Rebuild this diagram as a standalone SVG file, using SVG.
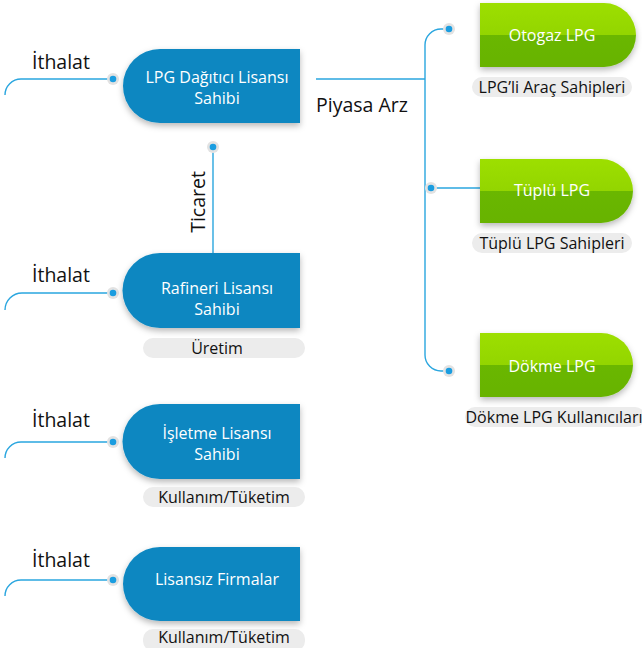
<svg xmlns="http://www.w3.org/2000/svg" width="642" height="648" viewBox="0 0 642 648">
<style>
.blue{fill:#0a87c1;filter:url(#sh)}
.green{fill:url(#gg);filter:url(#sh)}
.nt{font-family:"Open Sans","Liberation Sans",sans-serif;font-size:16px;fill:#ffffff;text-anchor:middle}
.lb{font-family:"Open Sans","Liberation Sans",sans-serif;font-size:19.5px;fill:#111111}
.pl{fill:#ececec}
.pt{font-family:"Open Sans","Liberation Sans",sans-serif;font-size:16px;fill:#111111;text-anchor:middle}
.ln{fill:none;stroke:#2aa6df;stroke-width:1.4}
.halo{fill:#e2e2e2}
.dot{fill:#1a9de0}
</style>
<defs>
<filter id="sh" x="-20%" y="-20%" width="140%" height="150%">
<feDropShadow dx="0" dy="3" stdDeviation="3" flood-color="#000" flood-opacity="0.28"/>
</filter>
<linearGradient id="gg" x1="0" y1="0" x2="0" y2="1">
<stop offset="0" stop-color="#9ddf00"/>
<stop offset="0.5" stop-color="#93d500"/>
<stop offset="0.5" stop-color="#6ab700"/>
<stop offset="1" stop-color="#67b300"/>
</linearGradient>
</defs>
<g id="connectors">
<path class="ln" d="M5,95 A16,16 0 0 1 21,79 H113"/>
<path class="ln" d="M5,310 A17,17 0 0 1 22,293 H113"/>
<path class="ln" d="M5,458 A16,16 0 0 1 21,442 H113"/>
<path class="ln" d="M5,596 A16,16 0 0 1 21,580 H113"/>
<path class="ln" d="M316,79 H425"/>
<path class="ln" d="M449,29 H441 A16,16 0 0 0 425,45 V355 A16,16 0 0 0 441,371 H449"/>
<path class="ln" d="M431,188 H480"/>
<path class="ln" d="M213,147 V253"/>
<circle class="halo" cx="113" cy="79" r="6"/><circle class="dot" cx="113" cy="79" r="3.3"/>
<circle class="halo" cx="113" cy="293" r="6"/><circle class="dot" cx="113" cy="293" r="3.3"/>
<circle class="halo" cx="113" cy="442" r="6"/><circle class="dot" cx="113" cy="442" r="3.3"/>
<circle class="halo" cx="113" cy="580" r="6"/><circle class="dot" cx="113" cy="580" r="3.3"/>
<circle class="halo" cx="449" cy="29" r="6"/><circle class="dot" cx="449" cy="29" r="3.3"/>
<circle class="halo" cx="431" cy="188" r="6"/><circle class="dot" cx="431" cy="188" r="3.3"/>
<circle class="halo" cx="449" cy="371" r="6"/><circle class="dot" cx="449" cy="371" r="3.3"/>
<circle class="halo" cx="213" cy="147" r="6"/><circle class="dot" cx="213" cy="147" r="3.3"/>
<text class="lb" x="32" y="69">İthalat</text>
<text class="lb" x="32" y="282">İthalat</text>
<text class="lb" x="32" y="427">İthalat</text>
<text class="lb" x="32" y="567">İthalat</text>
<text class="lb" x="316" y="112">Piyasa Arz</text>
<text class="lb" text-anchor="middle" transform="translate(205,202) rotate(-90)">Ticaret</text>
</g>
<g id="n-dagitici">
<path class="blue" d="M160,49 H300 V123 H160 A37,37 0 0 1 160,49 Z"/>
<text class="nt" x="217" y="83">LPG Dağıtıcı Lisansı</text>
<text class="nt" x="217" y="104">Sahibi</text>
</g>
<g id="n-rafineri">
<path class="blue" d="M160,253 H300 V328 H160 A37.5,37.5 0 0 1 160,253 Z"/>
<text class="nt" x="217" y="294">Rafineri Lisansı</text>
<text class="nt" x="217" y="315">Sahibi</text>
<rect class="pl" x="143" y="338" width="162" height="20" rx="10"/>
<text class="pt" x="217" y="354">Üretim</text>
</g>
<g id="n-isletme">
<path class="blue" d="M160,404 H300 V479 H160 A37.5,37.5 0 0 1 160,404 Z"/>
<text class="nt" x="217" y="439">İşletme Lisansı</text>
<text class="nt" x="217" y="460">Sahibi</text>
<rect class="pl" x="143" y="487" width="162" height="20" rx="10"/>
<text class="pt" x="224" y="503">Kullanım/Tüketim</text>
</g>
<g id="n-lisanssiz">
<path class="blue" d="M160,547 H300 V621 H160 A37,37 0 0 1 160,547 Z"/>
<text class="nt" x="217" y="585">Lisansız Firmalar</text>
<rect class="pl" x="143" y="629" width="162" height="22" rx="10"/>
<text class="pt" x="224" y="643">Kullanım/Tüketim</text>
</g>
<g id="n-otogaz">
<path class="green" d="M480,3 H604 A32,32 0 0 1 604,67 H480 Z"/>
<text class="nt" x="552" y="41">Otogaz LPG</text>
<rect class="pl" x="472" y="77" width="160" height="20" rx="10"/>
<text class="pt" x="552" y="93">LPG’li Araç Sahipleri</text>
</g>
<g id="n-tuplu">
<path class="green" d="M480,159 H601 A32,32 0 0 1 601,223 H480 Z"/>
<text class="nt" x="552" y="196">Tüplü LPG</text>
<rect class="pl" x="472" y="233" width="160" height="20" rx="10"/>
<text class="pt" x="552" y="249">Tüplü LPG Sahipleri</text>
</g>
<g id="n-dokme">
<path class="green" d="M480,333 H601 A32,32 0 0 1 601,397 H480 Z"/>
<text class="nt" x="552" y="372">Dökme LPG</text>
<rect class="pl" x="465" y="407" width="180" height="20" rx="10"/>
<text class="pt" x="554" y="423">Dökme LPG Kullanıcıları</text>
</g>
</svg>
